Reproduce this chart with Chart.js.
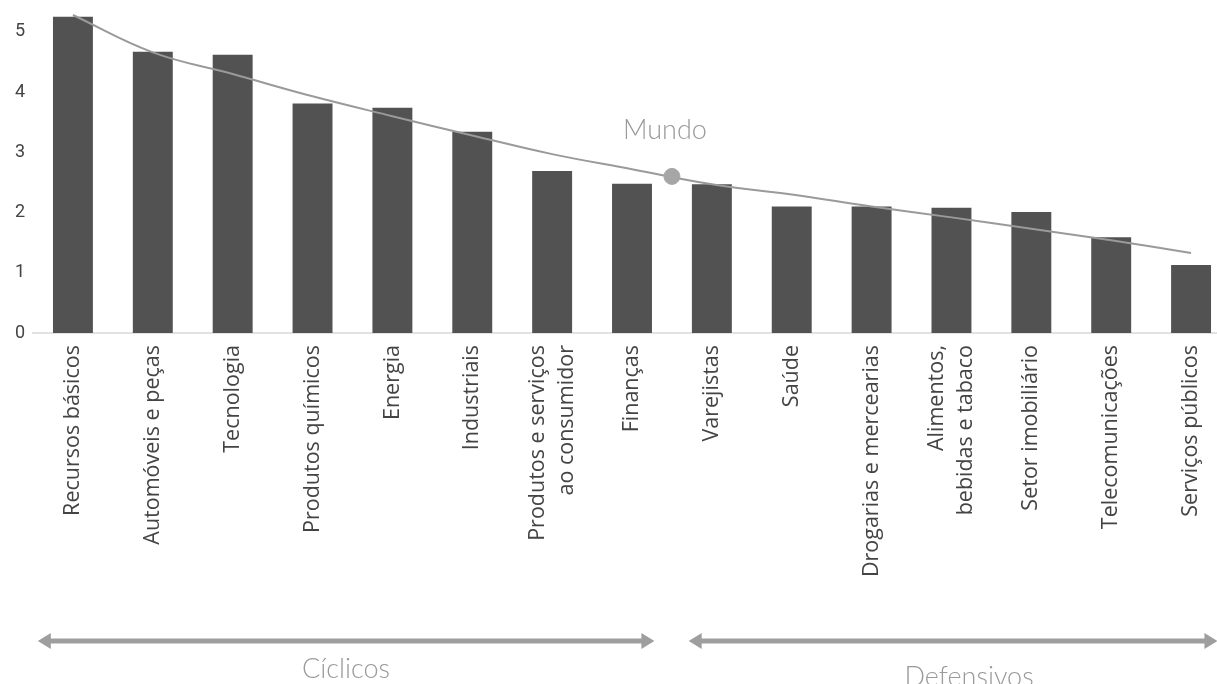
<!DOCTYPE html>
<html>
<head>
<meta charset="utf-8">
<script src="https://cdn.jsdelivr.net/npm/chart.js@4.4.0/dist/chart.umd.min.js"></script>
<style>
  html, body { margin: 0; padding: 0; background: #fff; overflow: hidden; }
  #wrap { width: 1240px; height: 684px; position: relative; }
</style>
</head>
<body>
<div id="wrap"><canvas id="bar-chartcanvas"></canvas></div>
<script>
// categories (x axis)
var categories = [
    "Recursos básicos", "Automóveis e peças", "Tecnologia", "Produtos químicos", "Energia",
    "Industriais", ["Produtos e serviços", "ao consumidor"], "Finanças", "Varejistas", "Saúde",
    "Drogarias e mercearias", ["Alimentos,", "bebidas e tabaco"], "Setor imobiliário",
    "Telecomunicações", "Serviços públicos"
];

// sector values (bars)
var sectorValues = [5.25, 4.67, 4.62, 3.81, 3.74, 3.34, 2.69, 2.48, 2.47, 2.1, 2.1, 2.08, 2.01, 1.59, 1.13];

// trend curve through the sectors
var trendValues = [5.28, 4.66, 4.3, 3.93, 3.6, 3.28, 2.97, 2.72, 2.47, 2.3, 2.1, 1.92, 1.73, 1.54, 1.33];

// world marker ("Mundo"), sits between Finanças and Varejistas
var worldLabel = "Mundo";
var worldPoint = { x: 7.5, y: 2.6 };

// y axis ticks
var yTicks = [0, 1, 2, 3, 4, 5];

// groups under the axis
var groupLabels = ["Cíclicos", "Defensivos"];
var groupRanges = [[0, 7], [8, 14]];

var trendPoints = trendValues.map(function (v, i) { return { x: i, y: v }; });

//Centres the two-line category labels on their bar (chart.js puts the first line on the tick)
var centerMultiline = {
    id: "centerMultiline",
    beforeDraw: function (chart) {
        var sx = chart.scales.x;
        var items = sx.getLabelItems(chart.chartArea);
        items.forEach(function (it) {
            if (Array.isArray(it.label) && !it._shifted) {
                it.options.translation[0] -= (it.label.length - 1) * it.font.lineHeight / 2;
                it._shifted = true;
            }
        });
    }
};

//Draws the "Mundo" text and the group arrows
var annotations = {
    id: "annotations",
    afterDatasetsDraw: function (chart) {
        var ctx = chart.ctx;
        var sx = chart.scales.x2;
        var sy = chart.scales.y;

        ctx.save();
        ctx.fillStyle = "#9a9a9a";
        ctx.font = "300 27px Lato";
        ctx.textAlign = "center";
        ctx.textBaseline = "middle";
        ctx.fillText(worldLabel, sx.getPixelForValue(worldPoint.x) - 7, sy.getPixelForValue(worldPoint.y) - 46);

        // arrows
        var pads = [[-0.44, 0.28], [-0.29, 0.33]];
        var ay = 641;
        groupRanges.forEach(function (r, i) {
            var x1 = sx.getPixelForValue(r[0] + pads[i][0]);
            var x2 = sx.getPixelForValue(r[1] + pads[i][1]);
            var head = 13, half = 8;
            ctx.fillStyle = "#9e9e9e";
            ctx.fillRect(x1 + head - 1, ay - 2.5, x2 - x1 - 2 * head + 2, 5);
            ctx.beginPath();
            ctx.moveTo(x1, ay);
            ctx.lineTo(x1 + head, ay - half);
            ctx.lineTo(x1 + head, ay + half);
            ctx.closePath();
            ctx.fill();
            ctx.beginPath();
            ctx.moveTo(x2, ay);
            ctx.lineTo(x2 - head, ay - half);
            ctx.lineTo(x2 - head, ay + half);
            ctx.closePath();
            ctx.fill();

            ctx.fillStyle = "#9a9a9a";
            ctx.font = "300 27px Lato";
            ctx.fillText(groupLabels[i], (x1 + x2) / 2 + i * 16, ay + 28 + i * 8);
        });
        ctx.restore();
    }
};

Chart.defaults.font.family = "'Open Sans'";

var ctx = document.getElementById("bar-chartcanvas");

var data = {
    labels: categories,
    datasets: [
        {
            type: "line",
            label: "Tendência",
            data: trendPoints,
            xAxisID: "x2",
            borderColor: "#9a9a9a",
            borderWidth: 2,
            pointRadius: 0,
            tension: 0.4,
            fill: false,
            order: 1
        },
        {
            type: "line",
            label: worldLabel,
            data: [worldPoint],
            xAxisID: "x2",
            backgroundColor: "#a6a6a6",
            borderColor: "#a6a6a6",
            pointRadius: 8,
            showLine: false,
            order: 0
        },
        {
            type: "bar",
            label: "Setores",
            data: sectorValues,
            backgroundColor: "#525252",
            categoryPercentage: 1,
            barPercentage: 0.5,
            grouped: false,
            order: 2
        }
    ]
};

var options = {
    responsive: true,
    maintainAspectRatio: false,
    animation: false,
    layout: { padding: { top: 0, right: 7, bottom: 90, left: 0 } },
    plugins: {
        legend: { display: false },
        tooltip: { enabled: false }
    },
    scales: {
        x: {
            grid: { display: false, drawTicks: false },
            border: { display: true, color: "#e2e2e2", width: 2 },
            ticks: {
                autoSkip: false,
                maxRotation: 90,
                minRotation: 90,
                padding: 12,
                color: "#444",
                font: { size: 21.5, lineHeight: 1.35 }
            },
            afterFit: function (s) {
                s.height = 261;
                s.paddingLeft = 0;
                s.paddingRight = 0;
            }
        },
        x2: {
            type: "linear",
            display: false,
            offset: false,
            min: -0.5,
            max: 14.5
        },
        y: {
            min: 0,
            max: 5.38,
            grid: { display: false, drawTicks: false },
            border: { display: false },
            afterBuildTicks: function (s) {
                s.ticks = yTicks.map(function (v) { return { value: v }; });
            },
            ticks: {
                padding: 8,
                color: "#444",
                font: { family: "Roboto", size: 18 }
            },
            afterFit: function (s) {
                s.width = 33;
                s.paddingTop = 0;
                s.paddingBottom = 0;
            }
        }
    }
};

var chart = new Chart(ctx, {
    type: "bar",
    data: data,
    options: options,
    plugins: [centerMultiline, annotations]
});
</script>
</body>
</html>
